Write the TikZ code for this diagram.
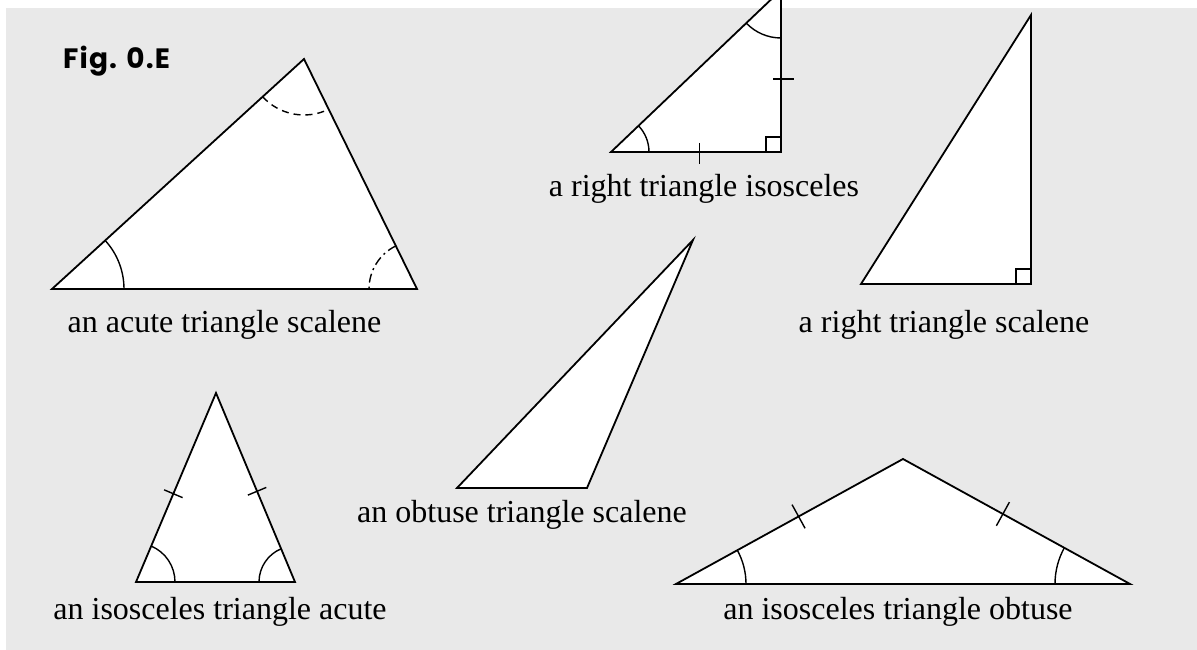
\documentclass[tikz,border=0pt]{standalone}
\usepackage{fontspec}
\setmainfont{Liberation Serif}
\newfontfamily\figfont[LetterSpace=4]{Poppins}
\usetikzlibrary{angles,calc}
\definecolor{bggray}{HTML}{E9E9E9}
\tikzset{
  tri/.style={draw=black,fill=white,line width=1.8pt,line join=miter},
  anglemark/.style={draw=black,line width=1.4pt},
  tickmark/.style={draw=black,line width=1.4pt},
  lbl/.style={anchor=base,inner sep=0pt,font=\fontsize{32}{38}\selectfont,text=black},
}
\begin{document}
\begin{tikzpicture}[x=1pt,y=1pt]
\useasboundingbox (0,0) rectangle (1197,650);
\clip (0,0) rectangle (1197,650);
\fill[bggray] (6,0) rectangle (1197,642);
\node[anchor=base west,inner sep=0pt,font=\figfont\bfseries\fontsize{28}{31}\selectfont] (fig) at (63,581) {Fig. 0.E};

% acute scalene
\coordinate (A1) at (52,361); \coordinate (C1) at (417,361); \coordinate (B1) at (304,591);
\draw[tri] (A1) -- (C1) -- (B1) -- cycle;
\pic[anglemark,angle radius=72pt] {angle=C1--A1--B1};
\pic[anglemark,angle radius=48pt,dash pattern=on 9pt off 4pt on 2pt off 4pt] {angle=B1--C1--A1};
\pic[anglemark,angle radius=56pt,dash pattern=on 7pt off 5pt] {angle=A1--B1--C1};
\node[lbl] (l1) at (224.5,317) {an acute triangle scalene};

% right isosceles
\coordinate (P2) at (611,498); \coordinate (Q2) at (781,498); \coordinate (R2) at (781,660);
\draw[tri] (P2) -- (Q2) -- (R2) -- cycle;
\pic[anglemark,angle radius=38pt] {angle=Q2--P2--R2};
\pic[anglemark,angle radius=48pt] {angle=P2--R2--Q2};
\draw[anglemark] (766,498) rectangle (781,513);
\draw[tickmark] ($(P2)!0.52!(Q2)!9pt!90:(Q2)$) -- ($(P2)!0.52!(Q2)!12pt!-90:(Q2)$);
\draw[tickmark] ($(Q2)!0.45!(R2)!8pt!90:(R2)$) -- ($(Q2)!0.45!(R2)!13pt!-90:(R2)$);
\node[lbl] (l2) at (704,453) {a right triangle isosceles};

% right scalene
\coordinate (P3) at (861,366); \coordinate (Q3) at (1031,366); \coordinate (R3) at (1031,635);
\draw[tri] (P3) -- (Q3) -- (R3) -- cycle;
\draw[anglemark] (1016,366) rectangle (1031,381);
\node[lbl] (l3) at (944,317) {a right triangle scalene};

% obtuse scalene
\coordinate (P4) at (457,162); \coordinate (Q4) at (587,162); \coordinate (R4) at (693,410);
\draw[tri] (P4) -- (Q4) -- (R4) -- cycle;
\node[lbl] (l4) at (522,127) {an obtuse triangle scalene};

% isosceles acute
\coordinate (P5) at (136,68); \coordinate (Q5) at (295,68); \coordinate (R5) at (216,257);
\draw[tri] (P5) -- (Q5) -- (R5) -- cycle;
\pic[anglemark,angle radius=39pt] {angle=Q5--P5--R5};
\pic[anglemark,angle radius=36pt] {angle=R5--Q5--P5};
\draw[tickmark] ($(P5)!0.467!(R5)!10pt!90:(R5)$) -- ($(P5)!0.467!(R5)!10pt!-90:(R5)$);
\draw[tickmark] ($(Q5)!0.48!(R5)!10pt!90:(R5)$) -- ($(Q5)!0.48!(R5)!10pt!-90:(R5)$);
\node[lbl] (l5) at (220,30) {an isosceles triangle acute};

% isosceles obtuse
\coordinate (P6) at (676,66); \coordinate (Q6) at (1130,66); \coordinate (R6) at (903,191);
\draw[tri] (P6) -- (Q6) -- (R6) -- cycle;
\pic[anglemark,angle radius=70pt] {angle=Q6--P6--R6};
\pic[anglemark,angle radius=75pt] {angle=R6--Q6--P6};
\draw[tickmark] ($(P6)!0.54!(R6)!13.5pt!90:(R6)$) -- ($(P6)!0.54!(R6)!13.5pt!-90:(R6)$);
\draw[tickmark] ($(Q6)!0.56!(R6)!13.5pt!90:(R6)$) -- ($(Q6)!0.56!(R6)!13.5pt!-90:(R6)$);
\node[lbl] (l6) at (898,30) {an isosceles triangle obtuse};
\end{tikzpicture}
\end{document}
